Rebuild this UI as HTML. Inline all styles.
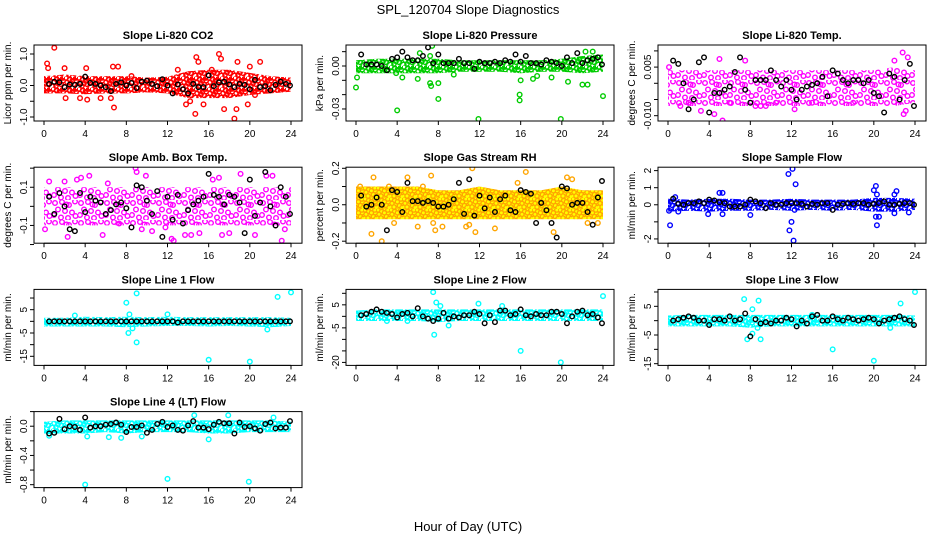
<!DOCTYPE html>
<html><head><meta charset="utf-8"><style>
html,body{margin:0;padding:0;background:#fff;}
svg{display:block;font-family:"Liberation Sans",Arial,sans-serif;}
</style></head><body>
<svg id="chart" width="936" height="540" viewBox="0 0 936 540">
<defs id="defs"></defs>
<text x="468" y="14" text-anchor="middle" font-size="13">SPL_120704  Slope Diagnostics</text>
<text x="468" y="531" text-anchor="middle" font-size="13">Hour of Day (UTC)</text>
</svg>
<script>
const blackHours=[0.5,1,1.5,2,2.5,3,3.5,4,4.5,5,5.5,6,6.5,7,7.5,8,8.5,9,9.5,10,10.5,11,11.5,12,12.5,13,13.5,14,14.5,15,15.5,16,16.5,17,17.5,18,18.5,19,19.5,20,20.5,21,21.5,22,22.5,23,23.5,23.9];
const bandHours=[0,2,4,6,8,10,12,14,16,18,20,22,24];

// Panel 1: CO2
const co2BandLow=[-0.25,-0.25,-0.28,-0.25,-0.25,-0.22,-0.25,-0.4,-0.4,-0.4,-0.3,-0.25,-0.2];
const co2BandHigh=[0.3,0.35,0.3,0.3,0.3,0.25,0.28,0.45,0.5,0.5,0.4,0.3,0.25];
const co2OutH=[0.3,0.4,1,2,2.1,4.1,4.2,6.8,6.7,7.2,6.5,13.8,14.2,14.7,14.8,15,15.5,16.3,17,17.2,17.5,18.5,18.7,18.8,19.8,20,20.5,21,13,3.5,5.5,8.5];
const co2OutV=[0.7,0.55,1.2,0.55,-0.4,0.55,-0.45,-0.7,0.6,0.6,-0.4,-0.6,-0.5,-0.9,0.9,0.75,-0.6,0.5,1.0,0.85,-0.75,-1.05,-0.75,0.75,-0.6,0.6,-0.3,0.75,0.5,-0.4,-0.4,0.3];
const co2Black=[0.05,0.12,0.1,-0.05,0.03,0.02,0.05,0.28,0.08,0.05,0,-0.05,-0.18,0.05,0.1,0,0.08,-0.08,0.12,0.15,0.05,-0.02,0.2,0,-0.25,0.03,-0.12,-0.25,0.05,-0.05,-0.05,0.32,-0.02,0.1,0.12,0.03,-0.05,0.05,0.02,-0.12,0.18,-0.05,-0.02,-0.15,0.02,0.12,0.05,0];

// Panel 2: Pressure
const presBandLow=[-0.005,-0.005,-0.005,-0.005,-0.005,-0.004,-0.004,-0.004,-0.005,-0.004,-0.004,-0.005,-0.004];
const presBandHigh=[0.004,0.005,0.005,0.005,0.005,0.004,0.004,0.004,0.004,0.004,0.005,0.007,0.008];
const presOutH=[0,0.1,4,3.9,4.5,6,6.2,7.2,7.2,7.3,8,8,9.5,11.9,15.9,15.9,16,17.2,17.6,19,19.9,20.6,22,22.5,22.3,23,24,7.4];
const presOutV=[-0.015,-0.008,-0.031,-0.005,-0.008,-0.009,0.009,0.007,-0.012,-0.014,-0.023,-0.012,-0.006,-0.037,-0.02,-0.024,-0.01,-0.009,-0.007,-0.008,-0.037,-0.011,-0.013,-0.013,0.01,0.01,-0.021,0.014];
const presBlack=[0.008,0.001,0.001,0.001,0,-0.003,0.005,0.006,0.01,0.006,0.004,0.004,0.007,0.013,0.002,0.008,0.002,0.002,0.002,0.005,0.002,0.002,-0.002,0.003,0.002,0.002,0.003,0.002,0.004,0.003,0.008,0.003,0.007,0.002,0.002,0.001,0.004,0.003,0.002,0,0.006,0.002,0.009,0.002,0.004,0.005,0.006,0.001];

// Panel 3: Li-820 Temp
const tempBandLow=[-0.007,-0.007,-0.007,-0.007,-0.007,-0.007,-0.007,-0.007,-0.007,-0.007,-0.007,-0.007,-0.006];
const tempBandHigh=[0.004,0.004,0.004,0.004,0.004,0.004,0.004,0.004,0.004,0.004,0.004,0.005,0.004];
const tempOutH=[0.1,5.3,5,4.5,7.5,8.5,9,9.5,12.3,22.8,22.9,23.3,23.1,22,1.2,2,6,10.5,14,18,3.2];
const tempOutV=[0.005,-0.0115,0.0075,-0.0095,0.007,-0.007,-0.007,-0.007,-0.008,0.0095,-0.0095,0.008,-0.0085,0.007,-0.007,-0.006,-0.006,-0.006,-0.006,-0.006,-0.0085];
const tempBlack=[0.007,0.006,0,-0.008,-0.005,0.0065,0.008,-0.009,-0.003,-0.003,-0.002,-0.001,0.0035,0.008,-0.002,-0.006,0.001,0.001,0.001,0.004,0.001,-0.001,0.001,-0.002,-0.005,-0.002,-0.001,-0.0005,0,0.002,-0.004,0.004,0.003,0.001,0,0.001,0.001,0,0.001,-0.003,-0.004,-0.009,0.003,0.002,-0.005,0.001,0.006,-0.007];

// Panel 4: Amb box temp
const ambBandLow=[-0.1,-0.1,-0.1,-0.1,-0.1,-0.1,-0.1,-0.1,-0.1,-0.1,-0.1,-0.1,-0.1];
const ambBandHigh=[0.1,0.1,0.1,0.1,0.1,0.1,0.1,0.1,0.1,0.1,0.1,0.1,0.1];
const ambOutH=[0.1,0.5,2.3,3.2,3.6,4.4,5.7,7.3,8.9,9,9.9,10.5,11.8,12.4,12.6,13.7,14.3,15.1,16.4,17,17.3,18,19.1,20.5,21.6,22.2,23.1,23.4,2,6.2,9.5];
const ambOutV=[-0.12,0.13,-0.16,0.14,0.15,0.16,-0.15,-0.09,0.2,0.18,0.16,-0.13,-0.11,-0.17,-0.18,-0.15,-0.15,-0.14,0.14,0.15,-0.15,-0.14,0.17,-0.15,0.16,0.16,-0.18,-0.12,0.13,0.12,-0.12];
const ambBlack=[0.05,-0.04,0.07,0,-0.12,-0.13,0.07,-0.03,0.05,0.03,0.02,-0.04,-0.02,0.01,0.02,-0.01,-0.11,0.11,0.1,0.03,-0.04,0.08,-0.16,0.05,-0.07,0.06,-0.09,-0.02,0.01,0.03,0.05,0.17,0.06,0.05,0.01,0.06,0.05,0.02,-0.14,0.14,-0.05,0.02,0.18,0,-0.1,0.1,0.05,-0.04];

// Panel 5: Gas stream RH
const rhBandLow=[-0.08,-0.08,-0.08,-0.08,-0.08,-0.08,-0.08,-0.08,-0.08,-0.08,-0.08,-0.08,-0.08];
const rhBandHigh=[0.1,0.1,0.1,0.1,0.08,0.08,0.1,0.08,0.08,0.08,0.1,0.08,0.08];
const rhOutH=[0.4,1.5,1.7,2.5,3.2,3.7,5,6,6.5,7.3,7.5,7.7,8.4,10.7,11,11.3,11.6,13.5,15.7,16.5,19.2,20.5,21,22.5,23.5];
const rhOutV=[0.1,-0.16,0.15,-0.2,0.1,-0.1,0.15,-0.12,0.1,0.16,-0.1,-0.14,-0.12,-0.12,-0.11,0.2,-0.15,-0.13,0.12,0.18,-0.15,0.15,0.14,-0.1,-0.1];
const rhBlack=[0.05,-0.01,0,0.04,0,-0.14,0.08,0.07,-0.04,0.12,0.02,0.02,0.01,0.02,0.01,-0.01,-0.01,0,0.03,0.12,-0.05,0.14,-0.06,0.05,-0.02,0.04,-0.04,0.03,0.05,-0.03,-0.04,0.08,0.07,0.06,-0.1,0.01,-0.03,-0.1,-0.18,0.1,0.09,0,0.01,0.01,-0.04,-0.11,0.04,0.13];

// Panel 6: Sample flow
const sfBandLow=[-0.4,-0.35,-0.4,-0.35,-0.35,-0.3,-0.35,-0.3,-0.35,-0.3,-0.4,-0.4,-0.3];
const sfBandHigh=[0.35,0.3,0.35,0.35,0.3,0.3,0.35,0.3,0.3,0.3,0.4,0.4,0.35];
const sfOutH=[0.1,0.2,0.7,3.9,5,5.3,5.3,11.7,11.8,12,12.1,12.2,12.4,12.3,20,20.2,20.3,20.2,20.3,20.5,22,22.2,22,23.4,8,1];
const sfOutV=[-0.35,-1.2,0.45,-0.55,0.7,0.7,-0.55,1.8,-1.5,-1,2.1,-2.1,1.2,-0.3,0.85,1.1,0.6,-0.7,-1.2,-0.7,0.6,0.8,-0.5,-0.45,-0.6,-0.4];
const sfBlack=[0.35,0.05,0,0.1,0.1,0.2,0.1,0.3,0.25,0.15,0.1,-0.1,-0.1,-0.1,0,0.3,0.2,0.1,-0.2,0.1,0,0,0.1,0.1,0.1,0.05,-0.1,0.05,0,0.1,0.1,-0.3,0,0.05,0.1,0.05,0.1,0.1,0,0.05,0.1,0.2,0,0,0.05,0.1,0.1,0];

// Panel 7: Line 1 flow
const l1BandLow=[-2.2,-2.2,-2.2,-2.2,-2.5,-2.2,-2,-2,-2.2,-2,-2.2,-2.5,-2];
const l1BandHigh=[1.5,1.5,2,1.8,2,1.8,2,1.8,1.8,1.8,1.8,1.8,1.5];
const l1OutH=[8,9,8.2,9,8.3,16,20,22.7,24,21.7,3,12,8.6];
const l1OutV=[8,12,-5,-9,3,-16.5,-17.3,10.5,12.4,-3.5,2.5,3,-3];
const l1Black=[0,0,0,0,0,0,0,0,0,0,0,0,0,0,0,0,0,0,0,0,0,0,0,0,0,-0.5,0,0,0,0,0,0,0,0,0,0,0,0,0,0,0,0,0,0,0,0,0,0];

// Panel 8: Line 2 flow
const l2BandLow=[-2,-2,-2,-2,-2.5,-2,-2,-2,-2,-2,-2,-2,-2];
const l2BandHigh=[2.5,3,3,3,3,3,3,3,3,3,3,3,3];
const l2OutH=[7.5,7.6,7.8,8.2,9,11.9,14.2,16,19.9,24,5,3];
const l2OutV=[10.5,-8,6,4.5,-4,5.5,4.5,-15,-20,8.8,-2,-2];
const l2Black=[0.5,1,2,3,2,1.5,1,-0.5,1,1.5,0,3.5,0,-1,-2,-1,1.5,-1,0,-0.5,0.5,0.5,2,1,-3,0.5,-2.5,2.5,2.5,0.5,1,3,0.5,0,1,0.5,0.5,2,2,1,-3,0,2,2.5,0.5,1,-0.5,-3];

// Panel 9: Line 3 flow
const l3BandLow=[-2,-2,-2,-2,-2.5,-2,-2,-2,-2,-2,-2,-2,-2];
const l3BandHigh=[1.8,2,2,2,2,2,2,2,2,2,2,2,1.8];
const l3OutH=[7.4,8.8,8.2,7.7,9,8.2,8.7,16,20,22.6,24,21.6,14];
const l3OutV=[7.5,7,4,-6.5,-6.5,-4.5,-2.5,-10,-14,6,10,-2.5,2];
const l3Black=[0,0.5,1,1.5,1,0,0,-1.5,0.5,0.5,0,1.5,0,0.5,2.5,-5.5,0.5,-1,-0.5,-1,0,0,1,0.5,-2,0,-1,1.5,2,0,0,1.5,0.5,0,1,0.5,0,0.5,1,0.5,-1,0,0.5,1,1.5,0.5,0,-1.5];

// Panel 10: Line 4 flow
const l4BandLow=[-0.1,-0.1,-0.1,-0.08,-0.1,-0.08,-0.08,-0.08,-0.1,-0.1,-0.08,-0.08,-0.08];
const l4BandHigh=[0.06,0.08,0.08,0.08,0.08,0.08,0.08,0.08,0.08,0.08,0.08,0.08,0.06];
const l4OutH=[4,12,19.9,16,6.3,7.5,0.5,14.6,17.9,22.3,9.5,4.2];
const l4OutV=[-0.8,-0.72,-0.76,-0.18,-0.15,-0.16,-0.13,0.15,0.15,0.12,-0.14,-0.14];
const l4Black=[-0.1,-0.09,0.1,-0.04,0,-0.01,-0.05,0.12,-0.02,0,0,0.02,0.03,0.05,0.02,-0.08,-0.01,-0.01,0.01,-0.09,-0.05,0.03,0.06,-0.01,0.01,-0.05,-0.06,0.01,0.07,-0.02,-0.02,-0.04,0.02,0.06,0.04,0.04,-0.1,0.05,-0.01,0,-0.03,-0.06,0.03,0.05,-0.03,-0.02,-0.02,0.07];

const panels=[
 {name:'co2',title:'Slope Li-820 CO2',ylab:'Licor ppm per min.',r:0,c:0,top:1.286,bot:-1.127,ticks:[-1,-0.5,0,0.5,1],labs:['-1.0','','0.0','','1.0'],pat:'pRed',col:'#f00',bl:co2BandLow,bh:co2BandHigh,oh:co2OutH,ov:co2OutV,bk:co2Black},
 {name:'pressure',title:'Slope Li-820 Pressure',ylab:'kPa per min.',r:0,c:1,top:0.01465,bot:-0.0384,ticks:[0.01,0,-0.01,-0.02,-0.03],labs:['','0.00','','','-0.03'],pat:'pGreen',col:'#0c0',bl:presBandLow,bh:presBandHigh,oh:presOutH,ov:presOutV,bk:presBlack},
 {name:'li820-temp',title:'Slope Li-820 Temp.',ylab:'degrees C per min.',r:0,c:2,top:0.01182,bot:-0.01164,ticks:[0.01,0.005,0,-0.005,-0.01],labs:['','0.005','','','-0.010'],pat:'pMag',col:'#f0f',bl:tempBandLow,bh:tempBandHigh,oh:tempOutH,ov:tempOutV,bk:tempBlack},
 {name:'amb-box-temp',title:'Slope Amb. Box Temp.',ylab:'degrees C per min.',r:1,c:0,top:0.205,bot:-0.193,ticks:[0.2,0.1,0,-0.1,-0.2],labs:['','0.1','','-0.1',''],pat:'pMag',col:'#f0f',bl:ambBandLow,bh:ambBandHigh,oh:ambOutH,ov:ambOutV,bk:ambBlack},
 {name:'gas-stream-rh',title:'Slope Gas Stream RH',ylab:'percent per min.',r:1,c:1,top:0.206,bot:-0.211,ticks:[0.2,0.1,0,-0.1,-0.2],labs:['0.2','','0.0','','-0.2'],pat:'pOrange',col:'#ffa500',bl:rhBandLow,bh:rhBandHigh,oh:rhOutH,ov:rhOutV,bk:rhBlack},
 {name:'sample-flow',title:'Slope Sample Flow',ylab:'ml/min per min.',r:1,c:2,top:2.2,bot:-2.25,ticks:[2,1,0,-1,-2],labs:['2','1','0','','-2'],pat:'pBlue',col:'#00f',bl:sfBandLow,bh:sfBandHigh,oh:sfOutH,ov:sfOutV,bk:sfBlack},
 {name:'line1-flow',title:'Slope Line 1 Flow',ylab:'ml/min per min.',r:2,c:0,top:13.7,bot:-18.9,ticks:[10,5,0,-5,-10,-15],labs:['','5','','-5','','-15'],pat:'pCyan',col:'#0ff',bl:l1BandLow,bh:l1BandHigh,oh:l1OutH,ov:l1OutV,bk:l1Black},
 {name:'line2-flow',title:'Slope Line 2 Flow',ylab:'ml/min per min.',r:2,c:1,top:11.7,bot:-21.3,ticks:[10,5,0,-5,-10,-15,-20],labs:['','5','','-5','','','-20'],pat:'pCyan',col:'#0ff',bl:l2BandLow,bh:l2BandHigh,oh:l2OutH,ov:l2OutV,bk:l2Black},
 {name:'line3-flow',title:'Slope Line 3 Flow',ylab:'ml/min per min.',r:2,c:2,top:10.9,bot:-15.6,ticks:[10,5,0,-5,-10,-15],labs:['','5','','-5','','-15'],pat:'pCyan',col:'#0ff',bl:l3BandLow,bh:l3BandHigh,oh:l3OutH,ov:l3OutV,bk:l3Black},
 {name:'line4-flow',title:'Slope Line 4 (LT) Flow',ylab:'ml/min per min.',r:3,c:0,top:0.2,bot:-0.84,ticks:[0.2,0,-0.2,-0.4,-0.6,-0.8],labs:['','0.0','','-0.4','','-0.8'],pat:'pCyan',col:'#0ff',bl:l4BandLow,bh:l4BandHigh,oh:l4OutH,ov:l4OutV,bk:l4Black}
];
const xTicks=[0,4,8,12,16,20,24];
const NS='http://www.w3.org/2000/svg';
const svg=document.getElementById('chart');
function mk(tag,attrs,parent){const e=document.createElementNS(NS,tag);for(const k in attrs)e.setAttribute(k,attrs[k]);(parent||svg).appendChild(e);return e;}
// texture tiles (irregular ring layouts for point clouds)
const defs=document.getElementById('defs');
const denseTile={w:13,h:11,pts:[[1,1],[4.6,2.6],[8.2,0.8],[11.2,3.8],[2,5.4],[6,6.4],[9.4,7.6],[0.8,9.2],[4,9],[12,9.6],[7.4,3.8],[10.8,1]]};
const sparseTile={w:26,h:20,pts:[[3,3],[10,2],[17,5],[23,1.5],[6,9.5],[13,11],[20,12.5],[2,15],[9,17.5],[16,18],[23.5,16],[14.5,4.5]]};
function tile(id,t,stroke,fill,r,sw){
 const p=mk('pattern',{id:id,width:t.w,height:t.h,patternUnits:'userSpaceOnUse'},defs);
 if(fill==='#ff0')mk('rect',{width:t.w,height:t.h,fill:'#ffd400'},p);
 t.pts.forEach(q=>mk('circle',{cx:q[0],cy:q[1],r:r,fill:fill,stroke:stroke,'stroke-width':sw},p));
}
tile('pRed',denseTile,'#f00','none',2.1,1.5);
tile('pGreen',denseTile,'#0c0','none',2.1,1.5);
tile('pBlue',denseTile,'#00f','none',2.1,1.5);
tile('pCyan',denseTile,'#0ff','none',2.1,1.5);
tile('pOrange',denseTile,'#ffa500','#ff0',2.1,1.3);
tile('pMag',sparseTile,'#f0f','none',2.3,1.4);
panels.forEach(p=>{
 const L=34+312*p.c, T=45+122.2*p.r, W=268, H=76;
 const g=mk('g',{});
 
 
 const xs=h=>L+10+h*(247/24);
 const ys=v=>T+(p.top-v)/(p.top-p.bot)*H;
 const cp='clip-'+p.name;
 const clip=mk('clipPath',{id:cp},g);mk('rect',{x:L,y:T,width:W,height:H},clip);
 const plot=mk('g',{'clip-path':'url(#'+cp+')'},g);
 let d='M';
 bandHours.forEach((h,i)=>{d+=(i?' L':'')+xs(h).toFixed(1)+','+ys(p.bh[i]).toFixed(1);});
 for(let i=bandHours.length-1;i>=0;i--)d+=' L'+xs(bandHours[i]).toFixed(1)+','+ys(p.bl[i]).toFixed(1);
 const band=mk('path',{d:d+' Z',fill:'url(#'+p.pat+')'},plot);
 
 
 p.oh.forEach((h,i)=>{
  const c=mk('circle',{cx:xs(h),cy:ys(p.ov[i]),r:2.3,fill:'none',stroke:p.col,'stroke-width':1.4},plot);
  
  
 });
 blackHours.forEach((h,i)=>{
  const c=mk('circle',{cx:xs(h),cy:ys(p.bk[i]),r:2.3,fill:'none',stroke:'#000','stroke-width':1.4},plot);
  
  
 });
 mk('rect',{x:L,y:T,width:W,height:H,fill:'none',stroke:'#000','stroke-width':1},g);
 const t=mk('text',{x:L+W/2,y:T-6,'text-anchor':'middle','font-size':11,'font-weight':'bold'},g);
 t.textContent=p.title;
 
 
 mk('line',{x1:xs(0),x2:xs(24),y1:T+H,y2:T+H,stroke:'#000'},g);
 xTicks.forEach(v=>{
  mk('line',{x1:xs(v),x2:xs(v),y1:T+H,y2:T+H+4,stroke:'#000'},g);
  const tl=mk('text',{x:xs(v),y:T+H+16,'text-anchor':'middle','font-size':10},g);
  tl.textContent=v;
  
  
 });
 p.ticks.forEach((v,i)=>{
  const y=ys(v);
  mk('line',{x1:L-4,x2:L,y1:y,y2:y,stroke:'#000'},g);
  if(p.labs[i]){
   const yl=mk('text',{x:L-7,y:y,'text-anchor':'middle','font-size':10,transform:'rotate(-90 '+(L-7)+' '+y+')'},g);
   yl.textContent=p.labs[i];
   
   
  }
 });
 const yt=mk('text',{x:L-23,y:T+H/2,'text-anchor':'middle','font-size':10,transform:'rotate(-90 '+(L-23)+' '+(T+H/2)+')'},g);
 yt.textContent=p.ylab;
 
 
});
</script>
</body></html>
